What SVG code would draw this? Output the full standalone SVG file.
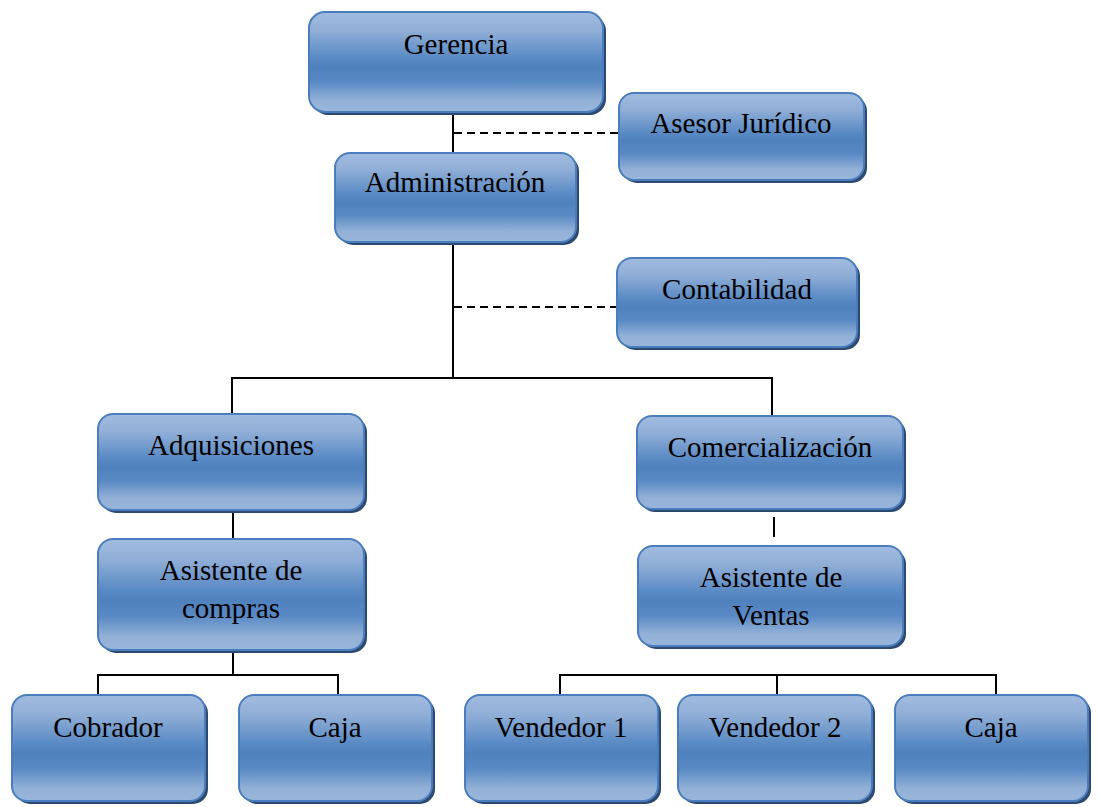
<svg xmlns="http://www.w3.org/2000/svg" width="1100" height="807" viewBox="0 0 1100 807">
  <defs>
    <linearGradient id="boxFill" x1="0" y1="0" x2="0" y2="1">
      <stop offset="0" stop-color="#a2bce0"/>
      <stop offset="0.2" stop-color="#8eadd6"/>
      <stop offset="0.45" stop-color="#5b8bc5"/>
      <stop offset="0.55" stop-color="#4f81bd"/>
      <stop offset="0.7" stop-color="#5a8ac4"/>
      <stop offset="0.88" stop-color="#93b1d7"/>
      <stop offset="1" stop-color="#98b5da"/>
    </linearGradient>
  </defs>
  <style>
    .shadow { fill: #2c4a70; }
    .box { fill: url(#boxFill); stroke: #4a7dbd; stroke-width: 2; }
    .label { font-family: "Liberation Serif", "Times New Roman", serif; font-size: 29px; fill: #000; text-anchor: middle; }
    .line { stroke: #000; stroke-width: 2; fill: none; }
    .dash { stroke: #000; stroke-width: 2; fill: none; stroke-dasharray: 8 5; }
  </style>

  <rect width="1100" height="807" fill="#fff"/>

  <!-- connectors -->
  <g id="connectors">
    <line class="line" x1="453" y1="112" x2="453" y2="153"/>
    <line class="dash" x1="454" y1="133" x2="619" y2="133"/>
    <line class="line" x1="453" y1="242" x2="453" y2="378"/>
    <line class="dash" x1="454" y1="307" x2="617" y2="307"/>
    <polyline class="line" points="232,414 232,378 772,378 772,416"/>
    <line class="line" x1="233" y1="512" x2="233" y2="539"/>
    <line class="line" x1="774" y1="517" x2="774" y2="537"/>
    <line class="line" x1="233" y1="652" x2="233" y2="675"/>
    <polyline class="line" points="98,695 98,675 338,675 338,695"/>
    <polyline class="line" points="560,695 560,675 996,675 996,695"/>
    <line class="line" x1="777" y1="675" x2="777" y2="695"/>
  </g>

  <g id="gerencia">
    <rect class="shadow" x="312" y="15" width="294" height="100" rx="16"/>
    <rect class="box" x="309" y="12" width="294" height="100" rx="16"/>
    <text class="label" x="456" y="54">Gerencia</text>
  </g>

  <g id="asesor-juridico">
    <rect class="shadow" x="622" y="96" width="245" height="87" rx="15"/>
    <rect class="box" x="619" y="93" width="245" height="87" rx="15"/>
    <text class="label" x="741" y="133">Asesor Jurídico</text>
  </g>

  <g id="administracion">
    <rect class="shadow" x="338" y="156" width="241" height="89" rx="15"/>
    <rect class="box" x="335" y="153" width="241" height="89" rx="15"/>
    <text class="label" x="455" y="192">Administración</text>
  </g>

  <g id="contabilidad">
    <rect class="shadow" x="620" y="261" width="240" height="89" rx="15"/>
    <rect class="box" x="617" y="258" width="240" height="89" rx="15"/>
    <text class="label" x="737" y="299">Contabilidad</text>
  </g>

  <g id="adquisiciones">
    <rect class="shadow" x="101" y="417" width="266" height="96" rx="15"/>
    <rect class="box" x="98" y="414" width="266" height="96" rx="15"/>
    <text class="label" x="231" y="455">Adquisiciones</text>
  </g>

  <g id="comercializacion">
    <rect class="shadow" x="640" y="419" width="266" height="93" rx="15"/>
    <rect class="box" x="637" y="416" width="266" height="93" rx="15"/>
    <text class="label" x="770" y="457">Comercialización</text>
  </g>

  <g id="asistente-compras">
    <rect class="shadow" x="101" y="542" width="266" height="111" rx="15"/>
    <rect class="box" x="98" y="539" width="266" height="111" rx="15"/>
    <text class="label" x="231" y="580">Asistente de</text>
    <text class="label" x="231" y="618">compras</text>
  </g>

  <g id="asistente-ventas">
    <rect class="shadow" x="641" y="549" width="265" height="100" rx="15"/>
    <rect class="box" x="638" y="546" width="265" height="100" rx="15"/>
    <text class="label" x="771" y="587">Asistente de</text>
    <text class="label" x="771" y="625">Ventas</text>
  </g>

  <g id="cobrador">
    <rect class="shadow" x="15" y="698" width="193" height="106" rx="15"/>
    <rect class="box" x="12" y="695" width="193" height="106" rx="15"/>
    <text class="label" x="108" y="737">Cobrador</text>
  </g>

  <g id="caja-compras">
    <rect class="shadow" x="242" y="698" width="193" height="106" rx="15"/>
    <rect class="box" x="239" y="695" width="193" height="106" rx="15"/>
    <text class="label" x="335" y="737">Caja</text>
  </g>

  <g id="vendedor-1">
    <rect class="shadow" x="468" y="698" width="193" height="106" rx="15"/>
    <rect class="box" x="465" y="695" width="193" height="106" rx="15"/>
    <text class="label" x="561" y="737">Vendedor 1</text>
  </g>

  <g id="vendedor-2">
    <rect class="shadow" x="681" y="698" width="194" height="106" rx="15"/>
    <rect class="box" x="678" y="695" width="194" height="106" rx="15"/>
    <text class="label" x="775" y="737">Vendedor 2</text>
  </g>

  <g id="caja-ventas">
    <rect class="shadow" x="898" y="698" width="193" height="106" rx="15"/>
    <rect class="box" x="895" y="695" width="193" height="106" rx="15"/>
    <text class="label" x="991" y="737">Caja</text>
  </g>
</svg>
